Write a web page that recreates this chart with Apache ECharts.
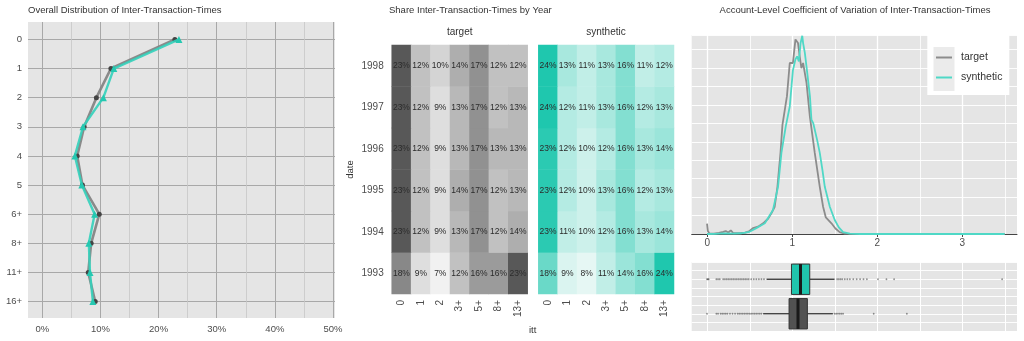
<!DOCTYPE html>
<html><head><meta charset="utf-8">
<script src="https://cdn.jsdelivr.net/npm/echarts@6/dist/echarts.min.js"></script>
<style>html,body{margin:0;padding:0;background:#fff}#c{width:1024px;height:341px}</style>
</head><body><div id="c"></div>
<script>
// ---------- data ----------
const ittCategories = ['0','1','2','3','4','5','6+','8+','11+','16+'];
const overallTarget = [22.8, 11.8, 9.3, 7.2, 6.0, 6.9, 9.8, 8.4, 7.9, 9.1];
const overallSynthetic = [23.5, 12.3, 10.5, 7.0, 5.6, 6.8, 9.0, 8.0, 8.2, 8.7];

const years = ['1993','1994','1995','1996','1997','1998'];
const ittBuckets = ['0','1','2','3+','5+','8+','13+'];
const shareTarget = [
  [18, 9, 7, 12, 16, 16, 23],
  [23, 12, 9, 13, 17, 12, 14],
  [23, 12, 9, 14, 17, 12, 13],
  [23, 12, 9, 13, 17, 13, 13],
  [23, 12, 9, 13, 17, 12, 13],
  [23, 12, 10, 14, 17, 12, 12]
];
const shareSynthetic = [
  [18, 9, 8, 11, 14, 16, 24],
  [23, 11, 10, 12, 16, 13, 14],
  [23, 12, 10, 13, 16, 12, 13],
  [23, 12, 10, 12, 16, 13, 14],
  [24, 12, 11, 13, 16, 12, 13],
  [24, 13, 11, 13, 16, 11, 12]
];

const densityTarget = [
  [0.00,0.14],[0.01,0.04],[0.03,0.005],[0.08,0.005],[0.14,0.015],[0.19,0.03],[0.22,0.04],[0.25,0.02],
  [0.28,0.05],[0.31,0.01],[0.38,0.01],[0.45,0.02],[0.50,0.04],[0.54,0.08],[0.60,0.10],[0.66,0.145],
  [0.72,0.21],[0.757,0.28],[0.796,0.37],[0.828,0.64],[0.864,1.10],[0.887,1.48],[0.94,1.87],[0.973,2.32],
  [1.01,2.32],[1.04,2.64],[1.07,2.59],[1.09,2.41],[1.11,2.25],[1.13,2.32],[1.17,2.05],[1.21,1.59],
  [1.267,1.10],[1.326,0.64],[1.365,0.37],[1.397,0.225],[1.463,0.145],[1.51,0.075],[1.56,0.025],
  [1.62,0.005],[1.8,0.002],[2.0,0],[2.5,0],[3.0,0],[3.5,0]
];
const densitySynthetic = [
  [0.00,0.0],[0.1,0.003],[0.2,0.008],[0.3,0.005],[0.4,0.01],[0.5,0.03],[0.58,0.08],[0.68,0.145],
  [0.776,0.325],[0.835,0.64],[0.875,1.10],[0.926,1.46],[0.973,1.73],[1.01,2.22],[1.04,2.37],[1.06,2.41],
  [1.08,2.34],[1.10,2.59],[1.12,2.69],[1.13,2.59],[1.15,2.46],[1.17,2.27],[1.21,1.87],[1.228,1.55],
  [1.25,1.50],[1.294,1.28],[1.326,1.10],[1.357,0.87],[1.385,0.64],[1.444,0.37],[1.502,0.19],[1.55,0.09],
  [1.6,0.025],[1.68,0.005],[1.8,0],[2.0,0],[2.5,0],[3.0,0],[3.5,0]
];

const boxGroups = ['target','synthetic'];
const boxTarget = [0.66, 0.965, 1.07, 1.18, 1.48];
const boxSynthetic = [0.70, 0.993, 1.099, 1.208, 1.50];
const outliersTarget = [0.00,0.11,0.13,0.16,0.18,0.20,0.22,0.24,0.27,0.30,0.33,0.36,0.38,0.40,0.42,0.44,0.46,0.48,0.50,0.52,0.54,0.56,0.58,0.60,0.62,0.64,1.50,1.52,1.54,1.56,1.58,1.60,1.96,2.35];
const outliersSynthetic = [0.00,0.01,0.02,0.11,0.13,0.15,0.19,0.21,0.23,0.25,0.27,0.29,0.31,0.33,0.35,0.37,0.39,0.41,0.43,0.45,0.47,0.49,0.52,0.55,0.58,0.61,0.64,0.67,1.53,1.55,1.57,1.59,1.62,1.65,1.68,1.72,1.76,1.80,1.84,1.88,2.01,2.11,2.20,3.47];

// ---------- styling ----------
const FONT = '"Liberation Sans", Arial, sans-serif';
const GREY_LINE = '#808080';
const TEAL_LINE = '#33d0ba';
const boxFills = ['#525252', '#20c5ad'];

function heatData(rows) {
  const out = [];
  rows.forEach((row, yi) => row.forEach((v, xi) => out.push([xi, yi, v])));
  return out;
}
function renderBox(params, api) {
  const c = api.value(0);
  const lo = api.coord([api.value(1), c]);
  const q1 = api.coord([api.value(2), c]);
  const md = api.coord([api.value(3), c]);
  const q3 = api.coord([api.value(4), c]);
  const hi = api.coord([api.value(5), c]);
  const h = api.size([0, 1])[1] * 0.88;
  const y = lo[1];
  return {type: 'group', children: [
    {type: 'line', shape: {x1: lo[0], y1: y, x2: q1[0], y2: y}, style: {stroke: '#333', lineWidth: 1.3}},
    {type: 'line', shape: {x1: q3[0], y1: y, x2: hi[0], y2: y}, style: {stroke: '#333', lineWidth: 1.3}},
    {type: 'rect', shape: {x: q1[0], y: y - h / 2, width: q3[0] - q1[0], height: h}, style: {fill: boxFills[params.dataIndex], stroke: '#333', lineWidth: 1}},
    {type: 'line', shape: {x1: md[0], y1: y - h / 2, x2: md[0], y2: y + h / 2}, style: {stroke: '#1a1a1a', lineWidth: 3}}
  ]};
}
const txt = (text, x, y, size, align) => ({
  type: 'text', x, y, silent: true, z: 5,
  style: {text, fontSize: size, fontFamily: FONT, fill: '#333', align: align || 'left', verticalAlign: 'middle'}
});

const hidden = {show: false};
const chart = echarts.init(document.getElementById('c'), null, {renderer: 'canvas'});
chart.setOption({
  animation: false,
  backgroundColor: '#fff',
  textStyle: {fontFamily: FONT},
  grid: [
    {left: 28, top: 22, width: 307, height: 296, show: true, backgroundColor: '#e5e5e5', borderWidth: 0},
    {left: 28, top: 39.4, width: 307, height: 262.2},
    {left: 42.3, top: 22, width: 290.7, height: 296},
    {left: 391.7, top: 45, width: 136, height: 249},
    {left: 538.3, top: 45, width: 135.7, height: 249},
    {left: 691.7, top: 35, width: 325.3, height: 199, show: true, backgroundColor: '#e5e5e5', borderWidth: 0},
    {left: 707.3, top: 35, width: 297.5, height: 199},
    {left: 707.3, top: 35, width: 255, height: 199},
    {left: 691.7, top: 262, width: 325.3, height: 69, show: true, backgroundColor: '#e5e5e5', borderWidth: 0},
    {left: 707.3, top: 262, width: 297.5, height: 69}
  ],
  xAxis: [
    {gridIndex: 0, type: 'value', show: false},
    {gridIndex: 1, type: 'value', min: -2.46, max: 50.34, show: false},
    {gridIndex: 2, type: 'value', min: 0, max: 50, interval: 10,
      axisLine: hidden, axisTick: hidden, minorTick: {show: false, splitNumber: 2},
      axisLabel: {formatter: v => v + '%', fontSize: 9.5, color: '#4d4d4d', margin: 6},
      splitLine: {show: true, lineStyle: {color: '#a8a8a8', width: 1}},
      minorSplitLine: {show: true, lineStyle: {color: '#c6c6c6', width: 0.8}}},
    {gridIndex: 3, type: 'category', data: ittBuckets, axisLine: hidden, axisTick: hidden, splitLine: hidden,
      axisLabel: {rotate: 90, fontSize: 10, color: '#4d4d4d', margin: 6}},
    {gridIndex: 4, type: 'category', data: ittBuckets, axisLine: hidden, axisTick: hidden, splitLine: hidden,
      axisLabel: {rotate: 90, fontSize: 10, color: '#4d4d4d', margin: 6}},
    {gridIndex: 5, type: 'value', min: -0.18, max: 3.645, axisLabel: hidden, axisTick: hidden, splitLine: hidden,
      axisLine: {show: true, lineStyle: {color: '#444', width: 1}}},
    {gridIndex: 6, type: 'value', min: 0, max: 3.5, interval: 0.5, axisLine: hidden, axisTick: hidden, axisLabel: hidden,
      splitLine: {show: true, lineStyle: {color: '#ffffff', width: 0.8}}},
    {gridIndex: 7, type: 'value', min: 0, max: 3, interval: 1, axisLine: hidden,
      axisTick: {show: true, length: 3, lineStyle: {color: '#444'}},
      axisLabel: {fontSize: 10, color: '#4d4d4d', margin: 4},
      splitLine: {show: true, lineStyle: {color: '#ffffff', width: 1.3}}},
    {gridIndex: 8, type: 'value', min: -0.18, max: 3.645, show: false},
    {gridIndex: 9, type: 'value', min: 0, max: 3.5, interval: 0.5, axisLine: hidden, axisTick: hidden, axisLabel: hidden,
      splitLine: {show: true, lineStyle: {color: '#ffffff', width: 1}}}
  ],
  yAxis: [
    {gridIndex: 0, type: 'value', show: false},
    {gridIndex: 1, type: 'category', data: ittCategories, inverse: true, boundaryGap: false,
      axisLine: hidden, axisTick: hidden,
      axisLabel: {fontSize: 9.5, color: '#4d4d4d', margin: 6},
      splitLine: {show: true, lineStyle: {color: '#a8a8a8', width: 1}}},
    {gridIndex: 2, type: 'value', show: false},
    {gridIndex: 3, type: 'category', data: years, axisLine: hidden, axisTick: hidden, splitLine: hidden,
      axisLabel: {fontSize: 10, color: '#4d4d4d', margin: 8},
      name: 'date', nameLocation: 'middle', nameGap: 36, nameRotate: 90,
      nameTextStyle: {fontSize: 9.5, color: '#333'}},
    {gridIndex: 4, type: 'category', data: years, axisLine: hidden, axisTick: hidden, splitLine: hidden, axisLabel: hidden},
    {gridIndex: 5, type: 'value', min: 0, max: 2.7, interval: 0.25, axisLine: hidden, axisTick: hidden, axisLabel: hidden,
      splitLine: {show: true, lineStyle: {color: '#ffffff', width: 0.9}}},
    {gridIndex: 6, type: 'value', show: false},
    {gridIndex: 7, type: 'value', show: false},
    {gridIndex: 8, type: 'value', min: 0, max: 8, interval: 1, axisLine: hidden, axisTick: hidden, axisLabel: hidden,
      splitLine: {show: true, lineStyle: {color: '#ffffff', width: 0.9}}},
    {gridIndex: 8, type: 'category', data: boxGroups, show: false},
    {gridIndex: 9, type: 'value', show: false}
  ],
  visualMap: [
    {show: false, seriesIndex: 2, min: 7, max: 23, inRange: {color: ['#f1f1f1', '#585858']}},
    {show: false, seriesIndex: 3, min: 8, max: 24, inRange: {color: ['#e6f7f4', '#1fc7ae']}}
  ],
  legend: {
    orient: 'vertical', left: 936, top: 52, padding: 0, itemWidth: 16, itemHeight: 2, itemGap: 9,
    icon: 'rect', selectedMode: false,
    textStyle: {fontSize: 10.5, color: '#333', padding: [0, 0, 0, 4]},
    data: [{name: 'target', itemStyle: {color: '#8c8c8c'}}, {name: 'synthetic', itemStyle: {color: '#4fd8c6'}}]
  },
  graphic: [
    {type: 'rect', shape: {x: 927.3, y: 35, width: 82, height: 60}, style: {fill: '#ffffff'}, z: 3, silent: true},
    {type: 'rect', shape: {x: 933.5, y: 47, width: 21, height: 44}, style: {fill: '#ebebeb'}, z: 3, silent: true},
    txt('Overall Distribution of Inter-Transaction-Times', 28, 10.5, 9.5),
    txt('Share Inter-Transaction-Times by Year', 389, 10.5, 9.5),
    txt('Account-Level Coefficient of Variation of Inter-Transaction-Times', 855, 10.5, 9.5, 'center'),
    txt('target', 459.7, 32, 10, 'center'),
    txt('synthetic', 606, 32, 10, 'center'),
    txt('itt', 532.7, 330, 9.5, 'center')
  ],
  series: [
    {name: 'target', type: 'line', xAxisIndex: 1, yAxisIndex: 1, data: overallTarget,
      lineStyle: {color: GREY_LINE, width: 2.6, opacity: 0.9}, symbol: 'circle', symbolSize: 5,
      itemStyle: {color: '#444'}, z: 3},
    {name: 'synthetic', type: 'line', xAxisIndex: 1, yAxisIndex: 1, data: overallSynthetic,
      lineStyle: {color: TEAL_LINE, width: 2.4, opacity: 0.9}, symbol: 'triangle', symbolSize: 7,
      itemStyle: {color: '#25c8b1'}, z: 4},
    {name: 'heatTarget', type: 'heatmap', xAxisIndex: 3, yAxisIndex: 3, data: heatData(shareTarget),
      label: {show: true, fontSize: 8.5, color: '#2b2b2b', formatter: p => p.value[2] + '%'}},
    {name: 'heatSynthetic', type: 'heatmap', xAxisIndex: 4, yAxisIndex: 4, data: heatData(shareSynthetic),
      label: {show: true, fontSize: 8.5, color: '#2b2b2b', formatter: p => p.value[2] + '%'}},
    {name: 'target', type: 'line', xAxisIndex: 5, yAxisIndex: 5, data: densityTarget, showSymbol: false,
      lineStyle: {color: '#8c8c8c', width: 1.8}, itemStyle: {color: '#8c8c8c'}, z: 3},
    {name: 'synthetic', type: 'line', xAxisIndex: 5, yAxisIndex: 5, data: densitySynthetic, showSymbol: false,
      lineStyle: {color: '#4fd8c6', width: 1.8}, itemStyle: {color: '#4fd8c6'}, z: 4},
    {name: 'box', type: 'custom', xAxisIndex: 8, yAxisIndex: 9, renderItem: renderBox,
      encode: {x: [1, 2, 3, 4, 5], y: 0},
      data: [[0].concat(boxTarget), [1].concat(boxSynthetic)], z: 3},
    {name: 'outTarget', type: 'scatter', xAxisIndex: 8, yAxisIndex: 9, symbolSize: 1.8,
      itemStyle: {color: 'rgba(30,30,30,0.6)'}, data: outliersTarget.map(v => [v, 0]), z: 4},
    {name: 'outSynthetic', type: 'scatter', xAxisIndex: 8, yAxisIndex: 9, symbolSize: 1.8,
      itemStyle: {color: 'rgba(30,30,30,0.6)'}, data: outliersSynthetic.map(v => [v, 1]), z: 4}
  ]
});
</script></body></html>
